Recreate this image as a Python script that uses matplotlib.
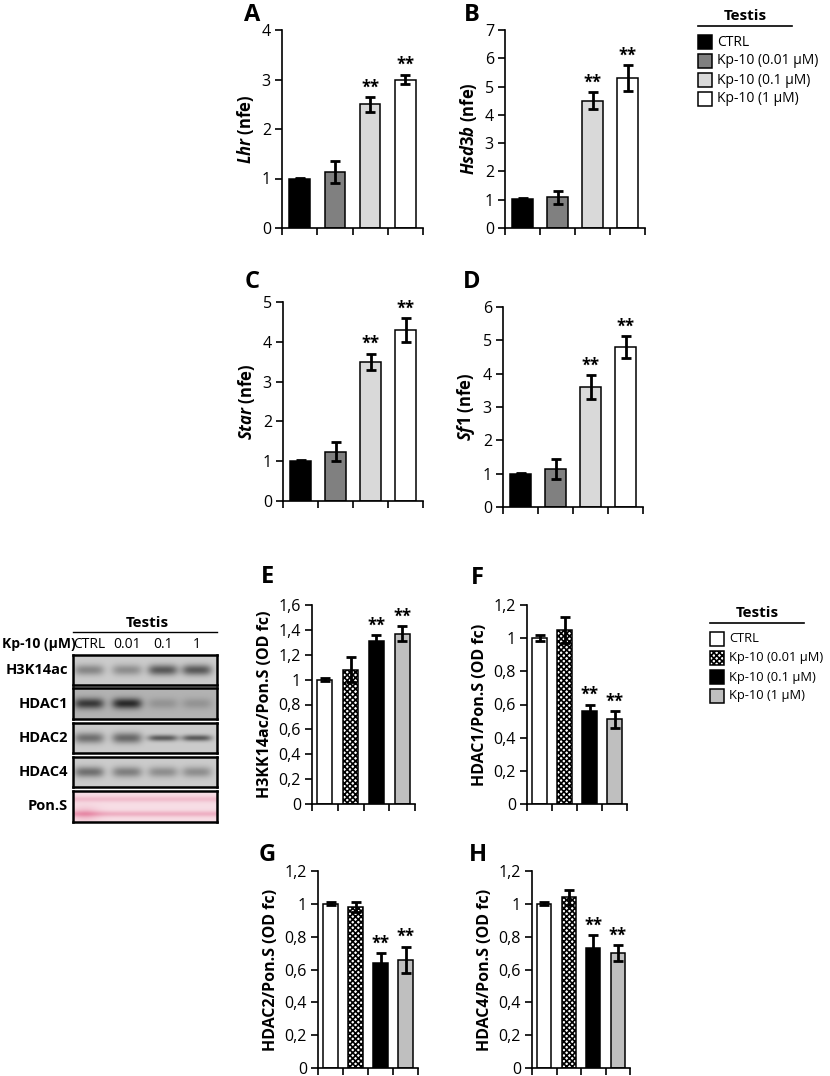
import numpy as np
import matplotlib
matplotlib.use("Agg")
import matplotlib.pyplot as plt
from matplotlib.patches import Rectangle

plt.rcParams['font.family'] = ['Open Sans', 'DejaVu Sans']
plt.rcParams['mathtext.fontset'] = 'custom'
plt.rcParams['mathtext.it'] = 'Open Sans:italic:bold'
plt.rcParams['mathtext.rm'] = 'Open Sans:bold'
plt.rcParams['hatch.linewidth'] = 1.2

W, H = 830, 1076

# ---- data ----
top_groups = ['CTRL', 'Kp-10 (0.01 µM)', 'Kp-10 (0.1 µM)', 'Kp-10 (1 µM)']
lhr = [1.0, 1.13, 2.5, 3.0]
lhr_err = [0.02, 0.23, 0.15, 0.1]
hsd3b = [1.02, 1.08, 4.5, 5.3]
hsd3b_err = [0.03, 0.22, 0.3, 0.45]
star = [1.0, 1.24, 3.5, 4.3]
star_err = [0.02, 0.23, 0.2, 0.3]
sf1 = [1.0, 1.15, 3.6, 4.8]
sf1_err = [0.02, 0.3, 0.35, 0.33]
top_sig = [False, False, True, True]

bot_groups = ['CTRL', 'Kp-10 (0.01 µM)', 'Kp-10 (0.1 µM)', 'Kp-10 (1 µM)']
h3k14ac = [1.0, 1.08, 1.31, 1.37]
h3k14ac_err = [0.015, 0.1, 0.05, 0.06]
hdac1 = [1.0, 1.05, 0.56, 0.51]
hdac1_err = [0.02, 0.08, 0.04, 0.05]
hdac2 = [1.0, 0.98, 0.64, 0.66]
hdac2_err = [0.01, 0.03, 0.06, 0.08]
hdac4 = [1.0, 1.04, 0.73, 0.70]
hdac4_err = [0.01, 0.045, 0.08, 0.05]
bot_sig = [False, False, True, True]

blot_names = ['H3K14ac', 'HDAC1', 'HDAC2', 'HDAC4', 'Pon.S']
blot_lanes = ['CTRL', '0.01', '0.1', '1']
band_darkness = {
    'H3K14ac': [0.45, 0.40, 0.75, 0.75],
    'HDAC1': [0.80, 0.90, 0.20, 0.20],
    'HDAC2': [0.60, 0.65, 0.75, 0.75],
    'HDAC4': [0.60, 0.50, 0.40, 0.40],
}

top_colors = ['black', '#808080', '#d9d9d9', 'white']
bot_colors = ['white', 'white', 'black', '#bfbfbf']
bot_hatch = [None, 'xxxxxx', None, None]

fig = plt.figure(figsize=(W / 100, H / 100), dpi=100)


def px_axes(x0, y0, x1, y1):
    return fig.add_axes([x0 / W, 1 - y1 / H, (x1 - x0) / W, (y1 - y0) / H])


def bar_panel(box, vals, errs, sig, colors, ymax, step, ylabel, letter, letter_xy,
              hatches=None, comma=False, lab_size=12):
    ax = px_axes(*box)
    x = np.arange(len(vals))
    for i in range(len(vals)):
        h = hatches[i] if hatches else None
        ax.bar(x[i], vals[i], width=0.58, color=colors[i], edgecolor='black',
               linewidth=1.1, hatch=h, zorder=2)
    ax.errorbar(x, vals, yerr=errs, fmt='none', ecolor='black', elinewidth=2.0,
                capsize=3.5, capthick=2.0, zorder=3)
    for i in range(len(vals)):
        if sig[i]:
            ax.text(x[i], vals[i] + errs[i] + ymax * 0.003, '**', ha='center',
                    va='bottom', fontsize=12, fontweight='bold')
    ax.set_xlim(-0.5, len(vals) - 0.5)
    ax.set_ylim(0, ymax)
    ax.set_xticks(np.arange(len(vals) + 1) - 0.5)
    ax.set_xticklabels([])
    ticks = np.arange(0, ymax + step / 2, step)
    ax.set_yticks(ticks)
    if comma:
        labs = []
        for t in ticks:
            s = ('%.1f' % t).rstrip('0').rstrip('.') if t != 0 else '0'
            labs.append(s.replace('.', ','))
        ax.set_yticklabels(labs)
    ax.tick_params(axis='both', direction='out', length=5, width=1.2, labelsize=11.5,
                   pad=3)
    for s in ['top', 'right']:
        ax.spines[s].set_visible(False)
    for s in ['left', 'bottom']:
        ax.spines[s].set_linewidth(1.2)
    ax.set_ylabel(ylabel, fontsize=lab_size, fontweight='bold', labelpad=4)
    fig.text(letter_xy[0] / W, 1 - letter_xy[1] / H, letter, fontsize=17,
             fontweight='bold', ha='center', va='center')
    return ax


bar_panel((282, 30, 423, 228), lhr, lhr_err, top_sig, top_colors, 4, 1,
          r'$\mathit{Lhr}$ (nfe)', 'A', (252, 15))
bar_panel((505, 30, 645, 228), hsd3b, hsd3b_err, top_sig, top_colors, 7, 1,
          r'$\mathit{Hsd3b}$ (nfe)', 'B', (472, 15))
bar_panel((283, 302, 423, 501), star, star_err, top_sig, top_colors, 5, 1,
          r'$\mathit{Star}$ (nfe)', 'C', (252, 282))
bar_panel((503, 307, 643, 507), sf1, sf1_err, top_sig, top_colors, 6, 1,
          r'$\mathit{Sf1}$ (nfe)', 'D', (472, 282))

bar_panel((312, 605, 415, 804), h3k14ac, h3k14ac_err, bot_sig, bot_colors, 1.6, 0.2,
          'H3KK14ac/Pon.S (OD fc)', 'E', (267, 577), bot_hatch, True, 11.5)
bar_panel((527, 605, 627, 804), hdac1, hdac1_err, bot_sig, bot_colors, 1.2, 0.2,
          'HDAC1/Pon.S (OD fc)', 'F', (477, 578), bot_hatch, True, 11.5)
bar_panel((318, 871, 418, 1068), hdac2, hdac2_err, bot_sig, bot_colors, 1.2, 0.2,
          'HDAC2/Pon.S (OD fc)', 'G', (267, 855), bot_hatch, True, 11.5)
bar_panel((532, 871, 630, 1068), hdac4, hdac4_err, bot_sig, bot_colors, 1.2, 0.2,
          'HDAC4/Pon.S (OD fc)', 'H', (478, 855), bot_hatch, True, 11.5)


# ---- legends ----
def legend_block(x_box, y_title, y_rows, labels, colors, hatches=None, size=10):
    lax = fig.add_axes([0, 0, 1, 1], facecolor='none')
    lax.set_xlim(0, W)
    lax.set_ylim(H, 0)
    lax.axis('off')
    lax.text(x_box + 47, y_title, 'Testis', ha='center', va='center', fontsize=11,
             fontweight='bold')
    lax.plot([x_box, x_box + 94], [y_title + 10, y_title + 10], color='black', lw=1.2)
    for i, lab in enumerate(labels):
        h = hatches[i] if hatches else None
        lax.add_patch(Rectangle((x_box, y_rows[i] - 7), 14, 14, facecolor=colors[i],
                                edgecolor='black', lw=1.1, hatch=h))
        lax.text(x_box + 19, y_rows[i], lab, ha='left', va='center', fontsize=size)


legend_block(698, 16, [42, 61, 80, 99], top_groups, top_colors)
legend_block(710, 613, [639, 658, 677, 696], bot_groups, bot_colors, bot_hatch, 9.3)

# ---- western blot ----
bx0, bx1 = 73, 217
lane_x = [89, 127, 163, 197]
row_y = [(655, 685), (688, 719), (723, 753), (757, 787), (791, 822)]

fig.text(147 / W, 1 - 623 / H, 'Testis', ha='center', va='center', fontsize=11,
         fontweight='bold')
fig.add_artist(plt.Line2D([bx0 / W, bx1 / W], [1 - 632 / H, 1 - 632 / H],
                          color='black', lw=1.0))
fig.text(2 / W, 1 - 644 / H, 'Kp-10 (µM)', ha='left', va='center', fontsize=10,
         fontweight='bold')
for lx, lab in zip(lane_x, blot_lanes):
    fig.text(lx / W, 1 - 644 / H, lab, ha='center', va='center', fontsize=10)

xs = np.linspace(bx0, bx1, 300)
for name, (y0, y1) in zip(blot_names, row_y):
    ax = px_axes(bx0, y0, bx1, y1)
    ys = np.linspace(y0, y1, 60)
    XX, YY = np.meshgrid(xs, ys)
    yc = (y0 + y1) / 2
    if name == 'Pon.S':
        img = np.zeros(XX.shape)
        for yy, amp in [(y0 + 8, 0.22), (y1 - 8, 0.3)]:
            img += amp * np.exp(-((YY - yy) / 3.0) ** 2)
        img += 0.25 * np.exp(-((XX - 85) / 14) ** 2) * np.exp(-((YY - y1 + 8) / 7) ** 2)
        rgb = np.stack([0.97 - 0.12 * img, 0.87 - 0.6 * img, 0.90 - 0.45 * img], axis=-1)
    else:
        dark = np.zeros(XX.shape)
        vals = band_darkness[name]
        for i, lx in enumerate(lane_x):
            wdt = 15
            hgt = 5.5 if name != 'HDAC2' or i < 2 else 3.2
            dark += vals[i] * np.exp(-((XX - lx) / wdt) ** 4) * np.exp(-((YY - yc) / hgt) ** 2)
        base = 0.80 if name != 'HDAC1' else 0.70
        g = np.clip(base - 0.6 * dark, 0, 1)
        rgb = np.stack([g, g, g], axis=-1)
    ax.imshow(rgb, extent=(bx0, bx1, y1, y0), aspect='auto', interpolation='bilinear')
    ax.set_xticks([])
    ax.set_yticks([])
    for s in ax.spines.values():
        s.set_linewidth(1.8)
    fig.text(68 / W, 1 - ((y0 + y1) / 2) / H, name, ha='right', va='center',
             fontsize=10.5, fontweight='bold')

fig.savefig('out.png', dpi=100)
